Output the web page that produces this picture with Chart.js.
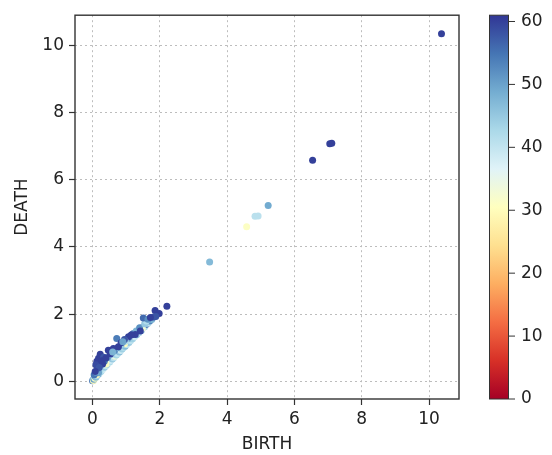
<!DOCTYPE html>
<html>
<head>
<meta charset="utf-8">
<script src="https://cdn.jsdelivr.net/npm/chart.js@4.4.0/dist/chart.umd.min.js"></script>
<style>
  html, body { margin: 0; padding: 0; background: #fff; }
  #wrap { width: 552px; height: 455px; position: relative; }
</style>
</head>
<body>
<div id="wrap"><canvas id="c" width="552" height="455"></canvas></div>
<script>
// Persistence pairs: birth, death and the level used for colouring.
const birth = [
  10.37, 7.05, 7.11, 6.54, 5.22, 4.83, 4.92, 4.58, 3.48,
  0.00, 0.02, 0.03, 0.05, 0.04, 0.06, 0.08, 0.08, 0.10, 0.10, 0.12, 0.13, 0.15, 0.15, 0.17, 0.18,
  0.20, 0.21, 0.22, 0.24, 0.25, 0.27, 0.28, 0.30, 0.31, 0.33, 0.35, 0.36, 0.38, 0.40, 0.42, 0.44,
  0.45, 0.47, 0.50, 0.51, 0.53, 0.55, 0.57, 0.59, 0.61, 0.63, 0.65, 0.67, 0.70, 0.71, 0.73, 0.75,
  0.78, 0.80, 0.82, 0.84, 0.86, 0.88, 0.90, 0.92, 0.94, 0.97, 1.00, 1.02, 1.05, 1.08, 1.10, 1.13,
  1.16, 1.19, 1.22, 1.25, 1.28, 1.31, 1.35, 1.38, 1.42, 1.45, 1.50, 1.55, 1.60, 1.65, 1.70, 1.76, 1.82,
  0.12, 0.22, 0.40, 0.95, 1.48, 0.18,
  0.05, 0.10, 0.15, 0.25, 0.35, 0.45, 0.55, 0.65, 0.75, 0.85, 1.05, 1.20, 1.30, 1.40, 1.55, 1.60,
  2.21, 1.86, 1.98, 1.88, 1.51, 1.42, 1.27, 1.07, 0.72, 0.97, 0.77, 0.62, 0.47, 0.23, 0.18, 0.13,
  0.33, 0.53, 0.10, 0.28, 0.40, 1.15, 0.85, 0.95, 1.65, 1.72, 0.90, 0.60, 0.30, 0.20, 0.08
];
const death = [
  10.34, 7.07, 7.08, 6.58, 5.23, 4.91, 4.92, 4.60, 3.55,
  0.02, 0.05, 0.03, 0.10, 0.07, 0.12, 0.10, 0.16, 0.18, 0.13, 0.22, 0.17, 0.25, 0.20, 0.30, 0.22,
  0.33, 0.26, 0.37, 0.29, 0.40, 0.33, 0.45, 0.36, 0.48, 0.40, 0.52, 0.43, 0.55, 0.47, 0.58, 0.51,
  0.62, 0.55, 0.65, 0.58, 0.70, 0.63, 0.72, 0.67, 0.76, 0.71, 0.80, 0.75, 0.84, 0.79, 0.88, 0.83,
  0.92, 0.88, 0.96, 0.92, 1.00, 0.97, 1.06, 1.01, 1.10, 1.05, 1.15, 1.10, 1.19, 1.16, 1.24, 1.21,
  1.30, 1.27, 1.34, 1.33, 1.40, 1.39, 1.46, 1.45, 1.52, 1.52, 1.61, 1.63, 1.70, 1.73, 1.80, 1.84, 1.92,
  0.20, 0.28, 0.52, 1.12, 1.58, 0.26,
  0.20, 0.28, 0.38, 0.50, 0.60, 0.72, 0.80, 0.92, 1.00, 1.08, 1.28, 1.42, 1.50, 1.60, 1.72, 1.80,
  2.24, 2.11, 2.02, 1.93, 1.89, 1.50, 1.40, 1.33, 1.28, 1.20, 1.03, 0.98, 0.93, 0.81, 0.69, 0.60,
  0.72, 0.82, 0.50, 0.62, 0.70, 1.38, 1.15, 1.25, 1.85, 1.90, 1.18, 0.88, 0.52, 0.42, 0.30
];
const level = [
  60, 60, 60, 60, 49, 41, 41, 31, 47,
  55, 42, 30, 46, 50, 44, 31, 56, 40, 47, 47, 44, 52, 41, 45, 48,
  58, 39, 48, 42, 54, 43, 49, 37, 56, 41, 46, 45, 53, 40, 57, 44,
  50, 36, 55, 42, 47, 38, 59, 45, 52, 41, 56, 34, 49, 43, 58, 40,
  54, 46, 60, 39, 51, 44, 31, 42, 56, 47, 53, 40, 58, 45, 50, 41,
  57, 44, 52, 39, 55, 46, 59, 42, 50, 47, 54, 43, 57, 41, 53, 48, 58,
  30, 42, 31, 30, 33, 50,
  55, 48, 52, 47, 55, 50, 44, 53, 48, 45, 50, 55, 48, 52, 45, 42,
  60, 60, 60, 58, 56, 60, 60, 60, 54, 42, 60, 60, 60, 60, 60, 60,
  58, 60, 59, 60, 60, 60, 60, 58, 52, 60, 50, 48, 60, 58, 60
];

// Axis and colour-bar tick labels
const axisTicks = [0, 2, 4, 6, 8, 10];
const levelTicks = [0, 10, 20, 30, 40, 50, 60];
const levelMin = 0, levelMax = 61;

// RdYlBu colour map
const rdylbu = ['#a50026','#d73027','#f46d43','#fdae61','#fee090','#ffffbf',
                '#e0f3f8','#abd9e9','#74add1','#4575b4','#313695'];
function hexRgb(h) { return [1,3,5].map(i => parseInt(h.substr(i,2),16)); }
function cmap(t) {
  t = Math.max(0, Math.min(1, t));
  const p = t * (rdylbu.length - 1);
  const i = Math.min(Math.floor(p), rdylbu.length - 2);
  const f = p - i;
  const a = hexRgb(rdylbu[i]), b = hexRgb(rdylbu[i+1]);
  const c = a.map((v,k) => Math.round(v + (b[k]-v)*f));
  return `rgb(${c[0]},${c[1]},${c[2]})`;
}
const levelColor = v => cmap((v - levelMin) / (levelMax - levelMin));

const points = birth.map((b, i) => ({ x: b, y: death[i] }));
const colors = level.map(levelColor);

const FONT = { family: 'DejaVu Sans', size: 17 };
const TEXT = '#222';

// Frame around the plot and the colour bar on the right
const decorations = {
  id: 'decorations',
  afterDraw(chart) {
    const { ctx, chartArea: a } = chart;
    ctx.save();
    ctx.strokeStyle = '#333';
    ctx.lineWidth = 1.4;
    ctx.strokeRect(a.left, a.top, a.right - a.left, a.bottom - a.top);

    const cs = chart.scales.lv;
    const x0 = 489, x1 = 509;
    const yTop = cs.getPixelForValue(levelMax), yBot = cs.getPixelForValue(levelMin);
    const g = ctx.createLinearGradient(0, yBot, 0, yTop);
    rdylbu.forEach((c, i) => g.addColorStop(i / (rdylbu.length - 1), c));
    ctx.fillStyle = g;
    ctx.fillRect(x0, yTop, x1 - x0, yBot - yTop);
    ctx.lineWidth = 1;
    ctx.strokeRect(x0 + 0.5, yTop, x1 - x0 - 1, yBot - yTop);

    ctx.fillStyle = TEXT;
    ctx.font = `${FONT.size}px ${FONT.family}`;
    ctx.textAlign = 'left';
    ctx.textBaseline = 'middle';
    levelTicks.forEach(v => {
      const y = cs.getPixelForValue(v);
      ctx.beginPath();
      ctx.moveTo(x1, y); ctx.lineTo(x1 + 6, y);
      ctx.stroke();
      ctx.fillText(String(v), x1 + 12, y);
    });
    ctx.restore();
  }
};

const gridOpts = {
  color: '#bdbdbd', lineWidth: 1,
  tickColor: '#333', tickLength: 6, tickWidth: 1.2
};

new Chart(document.getElementById('c'), {
  type: 'scatter',
  data: {
    datasets: [{
      data: points,
      pointBackgroundColor: colors,
      pointBorderWidth: 0,
      pointRadius: 3.5,
      pointHoverRadius: 3.5
    }]
  },
  options: {
    responsive: false,
    animation: false,
    events: [],
    layout: { padding: { top: 13, right: 93, left: 0, bottom: 0 } },
    plugins: { legend: { display: false }, tooltip: { enabled: false } },
    scales: {
      x: {
        type: 'linear', min: -0.52, max: 10.89,
        afterBuildTicks: s => { s.ticks = axisTicks.map(v => ({ value: v })); },
        afterFit: s => { s.height = 56; },
        grid: gridOpts,
        border: { display: false, dash: [2, 3] },
        ticks: { color: TEXT, font: FONT, padding: 4, maxRotation: 0 },
        title: { display: true, text: 'BIRTH', color: TEXT, font: FONT, padding: { top: 0, bottom: 0 } }
      },
      y: {
        type: 'linear', min: -0.52, max: 10.89,
        afterBuildTicks: s => { s.ticks = axisTicks.map(v => ({ value: v })); },
        afterFit: s => { s.width = 75; },
        grid: gridOpts,
        border: { display: false, dash: [2, 3] },
        ticks: { color: TEXT, font: FONT, padding: 5 },
        title: { display: true, text: 'DEATH', color: TEXT, font: FONT, padding: { top: 12, bottom: 0 } }
      },
      lv: {
        type: 'linear', axis: 'y', display: false, min: levelMin, max: levelMax
      }
    }
  },
  plugins: [decorations]
});
</script>
</body>
</html>
